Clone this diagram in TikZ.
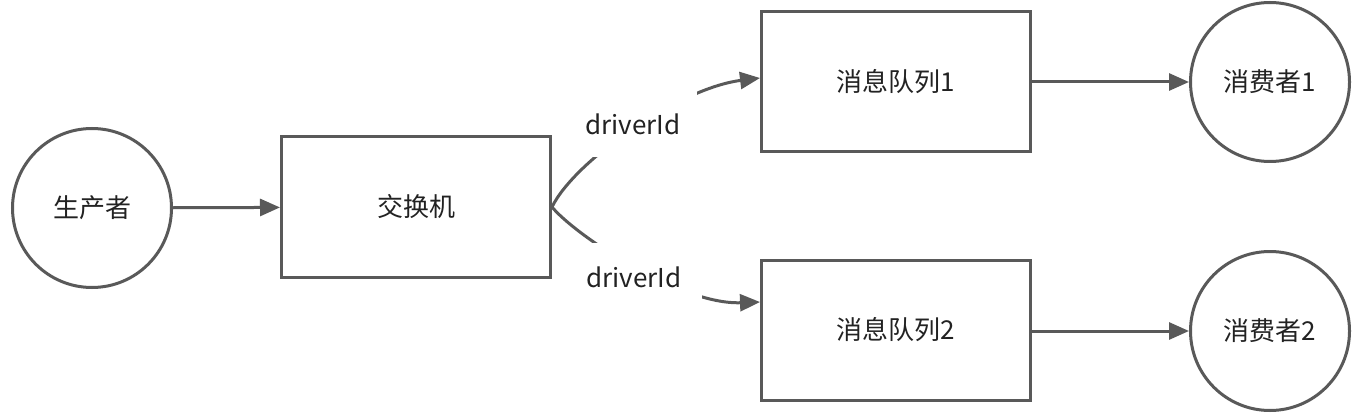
\documentclass[tikz,border=0pt]{standalone}
\usepackage{fontspec}
\setmainfont{Noto Sans CJK SC}
\usetikzlibrary{arrows.meta}
\definecolor{ln}{HTML}{595959}
\definecolor{tx}{HTML}{222222}
\begin{document}
\begin{tikzpicture}[x=1pt,y=-1pt,
  every node/.style={text=tx,font=\fontsize{26}{30}\selectfont},
  box/.style={draw=ln,line width=3pt,rectangle,minimum width=269pt,minimum height=140pt},
  ring/.style={draw=ln,line width=3pt,circle,minimum size=159pt,inner sep=0pt},
  conn/.style={draw=ln,line width=3pt,-{Triangle[length=20pt,width=17pt]}},
  lbl/.style={fill=white,inner sep=0pt}]
\useasboundingbox (0,0) rectangle (1362,414);
\node[ring] (prod) at (92,208) {生产者};
\node[box] (ex) at (416,207) {交换机};
\node[box] (q1) at (896,82) {消息队列1};
\node[box] (q2) at (896,330) {消息队列2};
\node[ring] (c1) at (1270,82) {消费者1};
\node[ring] (c2) at (1270,331) {消费者2};
\draw[conn] (prod) -- (ex);
\draw[conn] (q1.east) -- (c1);
\draw[conn] ([yshift=-1pt]q2.east) -- (c2);
\draw[conn] (ex.east) .. controls (575,160) and (680,88) .. ([yshift=4pt]q1.west);
\draw[conn] (ex.east) .. controls (575,235) and (680,305) .. ([yshift=28pt]q2.west);
\node[lbl,minimum width=128pt,minimum height=66pt] (l1) at (633,124) {driverId};
\node[lbl,minimum width=136pt,minimum height=68pt] (l2) at (634,277) {driverId};
\end{tikzpicture}
\end{document}
